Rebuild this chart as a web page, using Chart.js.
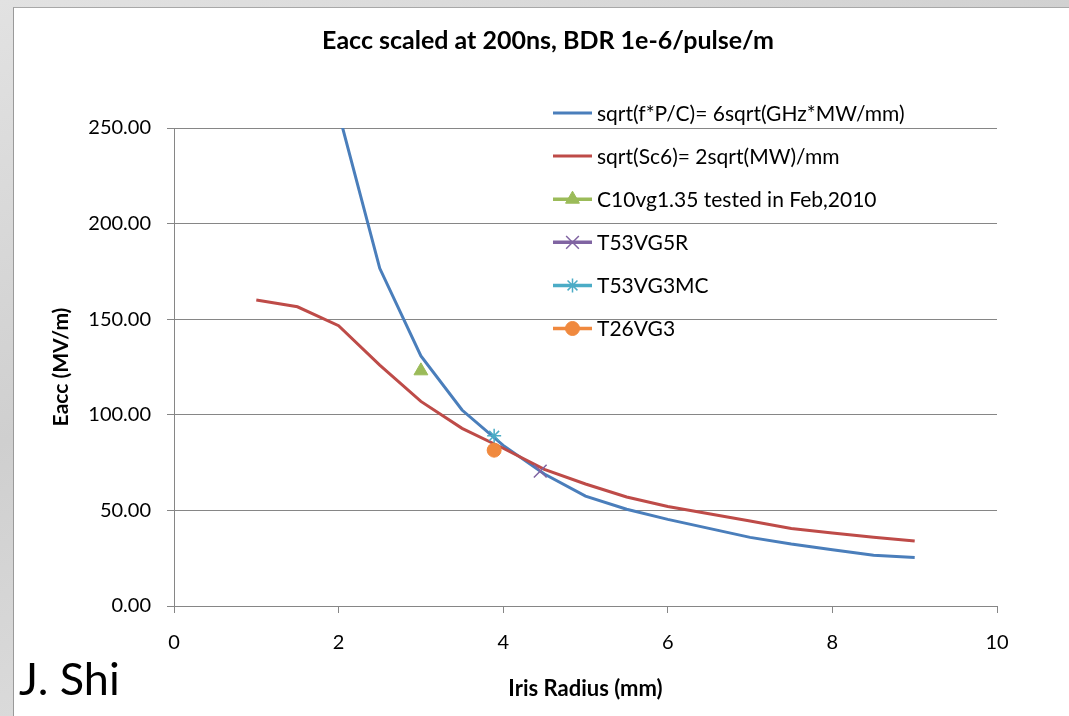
<!DOCTYPE html>
<html>
<head>
<meta charset="utf-8">
<script src="https://cdn.jsdelivr.net/npm/chart.js@4"></script>
<style>
  html, body { margin: 0; padding: 0; }
  body { width: 1069px; height: 716px; position: relative; overflow: hidden;
         background: linear-gradient(160deg, #e2e2e2 0%, #cfcfcf 40%, #dcdcdc 70%, #cacaca 100%); }
  .panel { position: absolute; left: 13px; top: 7px; right: 0; bottom: 0; background: #fff;
           border-left: 1px solid #9a9a9a; border-top: 1px solid #a8a8a8; }
  #chart { position: absolute; left: 0; top: 0; }
</style>
</head>
<body>
<div class="panel"></div>
<canvas id="chart" width="1069" height="716"></canvas>
<script>
// values
const chartTitle = 'Eacc scaled at 200ns, BDR 1e-6/pulse/m';
const author = 'J. Shi';

const fpcLabel = 'sqrt(f*P/C)= 6sqrt(GHz*MW/mm)';
const fpcX = [2, 2.5, 3, 3.5, 4, 4.5, 5, 5.5, 6, 6.5, 7, 7.5, 8, 8.5, 9];
const fpcY = [258, 176.6, 130.8, 102.5, 84, 69, 57.5, 50.6, 45.3, 40.6, 35.9, 32.4, 29.4, 26.5, 25.4];

const sc6Label = 'sqrt(Sc6)= 2sqrt(MW)/mm';
const sc6X = [1, 1.5, 2, 2.5, 3, 3.5, 4, 4.5, 5, 5.5, 6, 6.5, 7, 7.5, 8, 8.5, 9];
const sc6Y = [160, 156.5, 146.6, 126, 107, 92.9, 82.5, 71.5, 63.8, 57, 52, 48.2, 44.5, 40.5, 38.2, 36, 34];

const testLabels = ['C10vg1.35 tested in Feb,2010', 'T53VG5R', 'T53VG3MC', 'T26VG3'];
const testX = [3.0, 4.45, 3.89, 3.89];
const testY = [123, 70.5, 89, 81.5];

const yTicks = [0, 50, 100, 150, 200, 250];
const xTicks = [0, 2, 4, 6, 8, 10];

const testStyles = [
  { color: '#9BBB59', style: 'triangle', radius: 8, width: 1 },
  { color: '#8064A2', style: 'crossRot', radius: 9, width: 1.5 },
  { color: '#4BACC6', style: 'star', radius: 7, width: 1.5 },
  { color: '#F0893E', style: 'circle', radius: 7, width: 1 }
];

function toPoints(xs, ys) {
  return xs.map((x, i) => ({ x: x, y: ys[i] }));
}

const datasets = [
  { label: fpcLabel, data: toPoints(fpcX, fpcY), showLine: true, borderColor: '#4A7EBB',
    backgroundColor: '#4A7EBB', borderWidth: 3, pointRadius: 0, order: 6 },
  { label: sc6Label, data: toPoints(sc6X, sc6Y), showLine: true, borderColor: '#BE4B48',
    backgroundColor: '#BE4B48', borderWidth: 3, pointRadius: 0, order: 5 }
];
testLabels.forEach((name, i) => {
  const s = testStyles[i];
  datasets.push({
    label: name, data: [{ x: testX[i], y: testY[i] }], showLine: false,
    borderColor: s.color, backgroundColor: s.color, pointStyle: s.style,
    pointRadius: s.radius, pointBorderWidth: s.width, order: 4 - i
  });
});

// title, legend and author note drawn on top
const overlay = {
  id: 'overlay',
  afterDraw(chart) {
    const ctx = chart.ctx;
    ctx.save();
    ctx.fillStyle = '#000';
    ctx.textAlign = 'center';
    ctx.textBaseline = 'middle';
    ctx.font = 'bold 25px Lato';
    ctx.fillText(chartTitle, 548, 41);

    ctx.font = '21px Lato';
    ctx.textAlign = 'left';
    chart.data.datasets.forEach((ds, i) => {
      const y = 113 + i * 43.1;
      ctx.strokeStyle = ds.borderColor;
      ctx.fillStyle = ds.backgroundColor;
      ctx.lineWidth = ds.pointRadius ? 3.5 : 3;
      ctx.beginPath();
      ctx.moveTo(553, y);
      ctx.lineTo(592, y);
      ctx.stroke();
      if (ds.pointRadius) {
        ctx.lineWidth = ds.pointBorderWidth;
        Chart.helpers.drawPoint(ctx, { pointStyle: ds.pointStyle, radius: ds.pointRadius, rotation: 0,
          borderWidth: ds.pointBorderWidth }, 572.5, y);
      }
      ctx.fillStyle = '#000';
      ctx.fillText(ds.label, 597, y + 1);
    });

    ctx.font = '45px Lato';
    ctx.textBaseline = 'alphabetic';
    ctx.fillText(author, 19, 695);
    ctx.restore();
  }
};

new Chart(document.getElementById('chart'), {
  type: 'scatter',
  data: { datasets: datasets },
  plugins: [overlay],
  options: {
    responsive: false,
    animation: false,
    layout: { padding: { top: 128, right: 72, left: 0, bottom: 0 } },
    plugins: { legend: { display: false }, title: { display: false }, tooltip: { enabled: false } },
    scales: {
      x: {
        type: 'linear', min: 0, max: 10,
        afterBuildTicks: s => { s.ticks = xTicks.map(v => ({ value: v })); },
        afterFit: s => { s.height = 110; },
        grid: { drawOnChartArea: false, tickLength: 7, color: '#868686' },
        border: { color: '#868686' },
        ticks: { color: '#000', font: { family: 'Lato', size: 20 }, padding: 18 },
        title: { display: true, text: 'Iris Radius (mm)', color: '#000',
                 font: { family: 'Lato', size: 22, weight: 'bold' }, padding: { top: 0, bottom: 14 } }
      },
      y: {
        min: 0, max: 250,
        afterBuildTicks: s => { s.ticks = yTicks.map(v => ({ value: v })); },
        afterFit: s => { s.width = 174; },
        grid: { color: '#868686', tickLength: 7 },
        border: { color: '#868686' },
        ticks: { color: '#000', font: { family: 'Lato', size: 20 }, padding: 16,
                 callback: v => v.toFixed(2) },
        title: { display: true, text: 'Eacc (MV/m)', color: '#000',
                 font: { family: 'Lato', size: 21, weight: 'bold' }, padding: { top: 49, bottom: 0 } }
      }
    }
  }
});
</script>
</body>
</html>
